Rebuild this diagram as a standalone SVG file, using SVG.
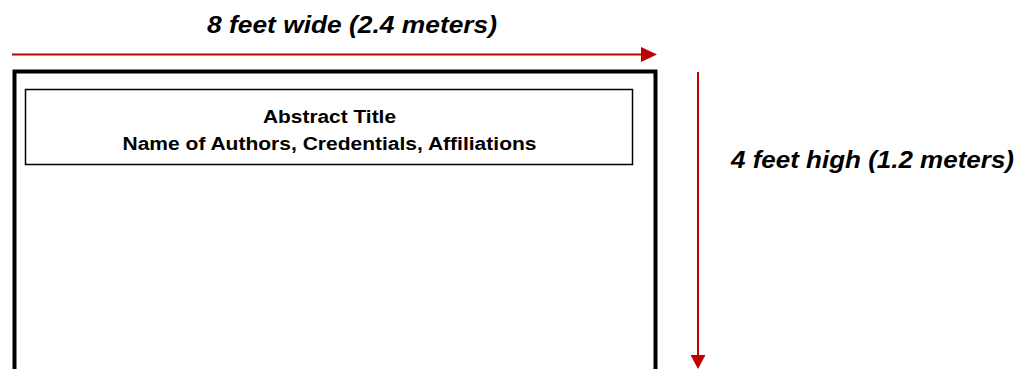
<svg xmlns="http://www.w3.org/2000/svg" width="1026" height="369" viewBox="0 0 1026 369">
  <defs>
    <style>
      .lbl { font-family: "Liberation Sans", Arial, sans-serif; font-weight: bold; fill: #000; }
      .dim { font-style: italic; font-size: 24px; }
      .ttl { font-size: 18px; }
      .conn { stroke: #C00000; stroke-width: 2; fill: none; }
    </style>
  </defs>
  <rect width="1026" height="369" fill="#fff"/>
  <g id="poster">
    <path d="M14.5 380 V71.5 H655.5 V380" fill="none" stroke="#000" stroke-width="4"/>
  </g>
  <g id="title-box">
    <rect x="25.5" y="89.5" width="607" height="75" fill="#fff" stroke="#000" stroke-width="1.5"/>
    <text class="lbl ttl" x="329.5" y="123" text-anchor="middle" textLength="133" lengthAdjust="spacingAndGlyphs">Abstract Title</text>
    <text class="lbl ttl" x="329.5" y="150" text-anchor="middle" textLength="414" lengthAdjust="spacingAndGlyphs">Name of Authors, Credentials, Affiliations</text>
  </g>
  <g id="width-label">
    <text class="lbl dim" x="207" y="33" textLength="290" lengthAdjust="spacingAndGlyphs">8 feet wide (2.4 meters)</text>
  </g>
  <g id="height-label">
    <text class="lbl dim" x="731" y="168" textLength="283" lengthAdjust="spacingAndGlyphs">4 feet high (1.2 meters)</text>
  </g>
  <g id="connectors">
    <line class="conn" x1="12" y1="54.5" x2="643" y2="54.5"/>
    <polygon points="641,47 657,54.5 641,62" fill="#C00000"/>
    <line class="conn" x1="698" y1="72" x2="698" y2="357"/>
    <polygon points="690.5,355 705.5,355 698,369" fill="#C00000"/>
  </g>
</svg>
